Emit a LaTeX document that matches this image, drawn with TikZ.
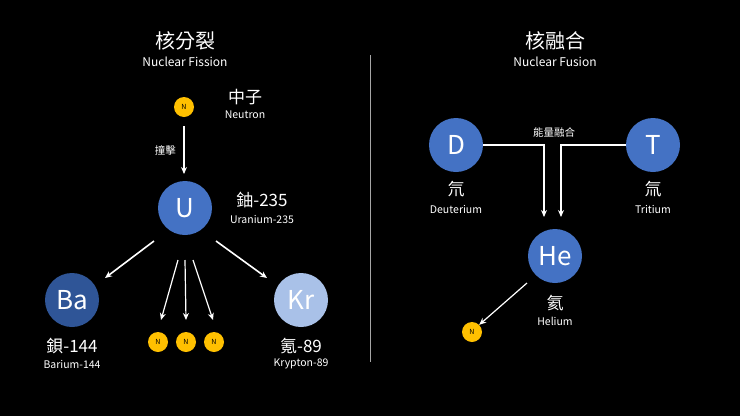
\documentclass[tikz,border=0pt]{standalone}
\usepackage{fontspec}
\setmainfont{Noto Sans CJK TC}
\usetikzlibrary{arrows.meta}
\definecolor{ublue}{HTML}{4472C4}
\definecolor{dblue}{HTML}{2F5597}
\definecolor{lblue}{HTML}{A9C1E8}
\definecolor{nyel}{HTML}{FFC000}
\begin{document}
\begin{tikzpicture}[x=1pt,y=-1pt,
  atom/.style={circle,minimum size=54pt,inner sep=0pt,text=white,font=\fontsize{26}{26}\selectfont},
  neu/.style={circle,fill=nyel,minimum size=20pt,inner sep=0pt,font=\fontsize{7}{7}\selectfont,text=black},
  ttl/.style={text=white,font=\fontsize{20}{20}\selectfont},
  sub/.style={text=white,font=\fontsize{12}{12}\selectfont},
  lab/.style={text=white,font=\fontsize{17}{17}\selectfont},
  slab/.style={text=white,font=\fontsize{10.5}{10.5}\selectfont},
  arr/.style={white,line width=1.6pt,-{Stealth[length=7pt,width=6pt]}}]
\fill[black] (0,0) rectangle (740,416);
\useasboundingbox (0,0) rectangle (740,416);
\draw[gray!70,line width=0.8pt] (370,55) -- (370,362);
% Fission
\node[ttl] (t1) at (185,41) {核分裂};
\node[sub] (s1) at (185,62) {Nuclear Fission};
\node[neu] (n0) at (184,107) {N};
\node[lab] (zl) at (245,97) {中子};
\node[slab] (zs) at (245,115) {Neutron};
\node[atom,fill=ublue] (U) at (185,208) {U};
\node[lab] (ul) at (262,200) {鈾-235};
\node[slab] (us) at (262,219) {Uranium-235};
\coordinate (a0) at (184,126);
\coordinate (a1) at (184,174);
\draw[arr] (a0) -- node[left=4pt,slab] {撞擊} (a1);
\node[atom,fill=dblue] (Ba) at (72,300) {Ba};
\node[lab] (bl) at (72,346) {鋇-144};
\node[slab] (bs) at (72,364) {Barium-144};
\node[atom,fill=lblue] (Kr) at (301,300) {Kr};
\node[lab] (kl) at (301,346) {氪-89};
\node[slab] (ks) at (301,364) {Krypton-89};
\node[neu] (n1) at (158,342) {N};
\node[neu] (n2) at (186,342) {N};
\node[neu] (n3) at (214,342) {N};
\coordinate (b1) at (154,241); \coordinate (b2) at (105,278);
\coordinate (c1) at (216,241); \coordinate (c2) at (267,278);
\coordinate (d1) at (178,260); \coordinate (d2) at (161,320);
\coordinate (e1) at (185,260); \coordinate (e2) at (186,320);
\coordinate (f1) at (193,260); \coordinate (f2) at (213,320);
\draw[arr] (b1) -- (b2);
\draw[arr] (c1) -- (c2);
\draw[arr,line width=1.2pt] (d1) -- (d2);
\draw[arr,line width=1.2pt] (e1) -- (e2);
\draw[arr,line width=1.2pt] (f1) -- (f2);
% Fusion
\node[ttl] (t2) at (555,41) {核融合};
\node[sub] (s2) at (555,62) {Nuclear Fusion};
\node[atom,fill=ublue] (D) at (456,145) {D};
\node[atom,fill=ublue] (T) at (653,145) {T};
\node[lab] (dl) at (456,189) {氘};
\node[slab] (ds) at (456,209) {Deuterium};
\node[lab] (tl) at (653,189) {氚};
\node[slab] (ts) at (653,209) {Tritium};
\node[slab] (em) at (554,132) {能量融合};
\node[atom,fill=ublue] (He) at (555,256) {He};
\node[lab] (hl) at (555,303) {氦};
\node[slab] (hs) at (555,321) {Helium};
\coordinate (g1) at (544,217); \coordinate (g2) at (561,217);
\draw[arr,line width=1.2pt] (D.east) -- (544,145) -- (g1);
\draw[arr,line width=1.2pt] (T.west) -- (561,145) -- (g2);
\node[neu] (n4) at (472,332) {N};
\coordinate (h1) at (527,283);
\draw[arr,line width=1.2pt] (h1) -- (n4.north east);
\end{tikzpicture}
\end{document}
